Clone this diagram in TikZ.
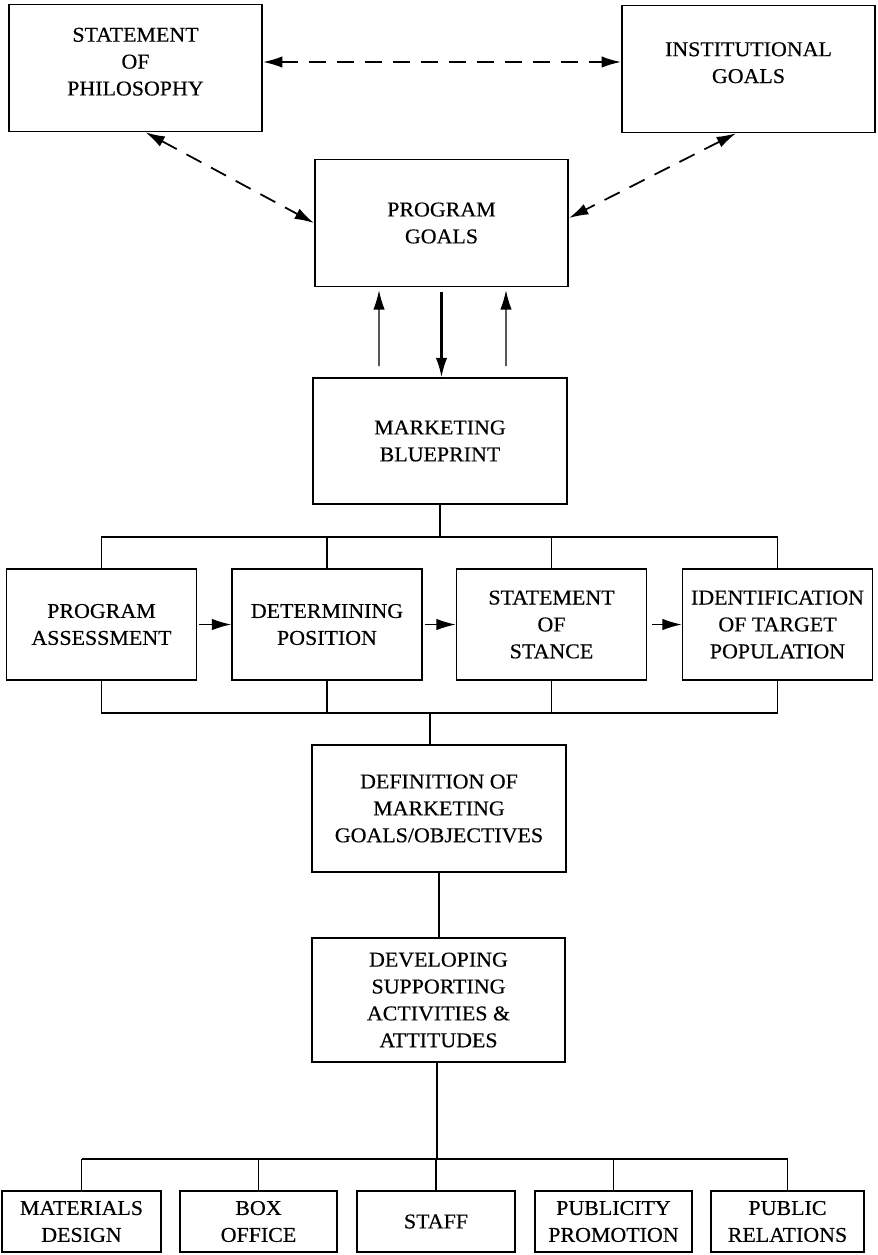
\documentclass[tikz,border=0pt]{standalone}
\usepackage{fontspec}
\setmainfont[FakeStretch=1.04,FakeBold=0.4]{Liberation Serif}
\usetikzlibrary{arrows.meta}
\begin{document}
\begin{tikzpicture}[x=0.02cm,y=-0.02cm,
  box/.style={draw,line width=0.9pt,align=center,inner sep=2pt,font={\fontsize{12}{15.3}\selectfont}},
  bigbox/.style={box,minimum width=5.07cm,minimum height=2.54cm},
  rowbox/.style={box,minimum width=3.8cm,minimum height=2.22cm},
  lowbox/.style={box,minimum height=1.22cm},
  tip/.style={-{Latex[length=11pt,width=6.5pt]},line width=0.7pt},
  dasharrow/.style={{Latex[length=11pt,width=6.5pt]}-{Latex[length=11pt,width=6.5pt]},line width=1pt,dash pattern=on 0.34cm off 0.22cm}]
\useasboundingbox (0,0) rectangle (878,1255);
% top three
\node[bigbox] (phil) at (135.5,68) {STATEMENT\\OF\\PHILOSOPHY\\[-8pt]};
\node[bigbox] (inst) at (748.5,69) {INSTITUTIONAL\\GOALS\\[-8pt]};
\node[bigbox] (prog) at (441.5,223) {PROGRAM\\GOALS};
\draw[dasharrow] (phil.east |- 0,62) -- (inst.west |- 0,62);
\draw[dasharrow] ([xshift=0.2cm]phil.south) -- (prog.west);
\draw[dasharrow] ([xshift=-0.25cm]inst.south) -- ([yshift=0.1cm]prog.east);
% blueprint
\node[bigbox,minimum height=2.52cm] (mb) at (440,441) {MARKETING\\BLUEPRINT};
\draw[tip] ([xshift=-1.22cm,yshift=0.22cm]mb.north) -- ([xshift=-1.25cm,yshift=-0.06cm]prog.south);
\draw[tip] ([xshift=1.32cm,yshift=0.22cm]mb.north) -- ([xshift=1.29cm,yshift=-0.06cm]prog.south);
\draw[tip,line width=1.2pt] ([yshift=-0.1cm]prog.south) -- (prog.south |- mb.north);
% middle row
\node[rowbox] (pa) at (101.5,624.5) {PROGRAM\\ASSESSMENT};
\node[rowbox] (dp) at (327,624.5) {DETERMINING\\POSITION};
\node[rowbox] (ss) at (551.5,624.5) {STATEMENT\\OF\\STANCE};
\node[rowbox] (itp) at (777.5,624.5) {IDENTIFICATION\\OF TARGET\\POPULATION};
\draw[tip] ([xshift=0.04cm]pa.east) -- (dp.west);
\draw[tip] ([xshift=0.04cm]dp.east) -- (ss.west);
\draw[tip] ([xshift=0.1cm]ss.east) -- (itp.west);
\coordinate (bus1) at (440,537);
\coordinate (bus2) at (430,713);
\draw[line width=0.7pt] (mb.south) -- (bus1);
\draw[line width=0.7pt] (pa.north) |- (itp.north |- bus1) -- (itp.north);
\draw[line width=0.7pt] (pa.south) |- (itp.south |- bus2) -- (itp.south);
\foreach \nm in {dp,ss} {
\draw[line width=0.7pt] (\nm.north) -- (\nm.north |- bus1);
\draw[line width=0.7pt] (\nm.south) -- (\nm.south |- bus2);
}
% definition and developing
\node[bigbox] (def) at (439,808.5) {DEFINITION OF\\MARKETING\\GOALS/OBJECTIVES};
\node[bigbox,minimum height=2.48cm] (dev) at (438.5,1000) {DEVELOPING\\SUPPORTING\\ACTIVITIES \&\\ATTITUDES};
\draw[line width=0.7pt] (bus2) -- (bus2 |- def.north);
\draw[line width=0.7pt] (def.south) -- (def.south |- dev.north);
% bottom row
\coordinate (bus3) at (437,1159);
\foreach \nm/\x/\w/\txt in {md/81.5/3.18/MATERIALS\\DESIGN, bo/258.5/3.14/BOX\\OFFICE, st/436/3.16/STAFF, pp/613.5/3.14/PUBLICITY\\PROMOTION, pr/787.5/3.06/PUBLIC\\RELATIONS} {
\node[lowbox,minimum width=\w cm] (\nm) at (\x,1221.5) {\txt};
\draw[line width=0.7pt] (\nm.north) -- (\nm.north |- bus3);
}
\draw[line width=0.7pt] (dev.south -| bus3) -- (bus3);
\draw[line width=0.7pt] (md.north |- bus3) -- (pr.north |- bus3);
\end{tikzpicture}
\end{document}
